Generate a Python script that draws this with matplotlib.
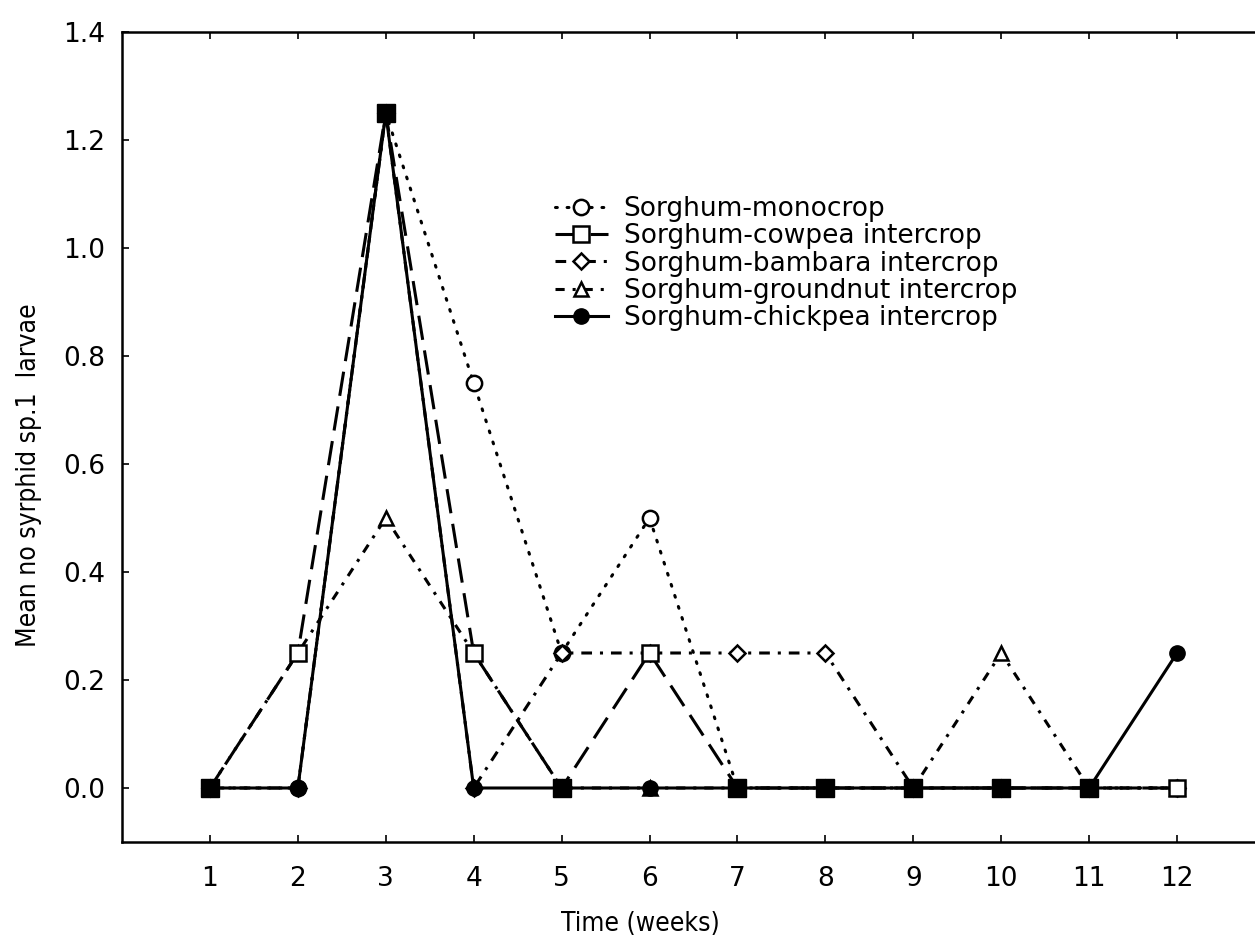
import matplotlib
matplotlib.use('Agg')
import matplotlib.pyplot as plt
import numpy as np

# data
weeks = [1, 2, 3, 4, 5, 6, 7, 8, 9, 10, 11, 12]
monocrop  = [0, 0, 1.25, 0.75, 0.25, 0.5, 0, 0, 0, 0, 0, 0]
cowpea    = [0, 0.25, 1.25, 0.25, 0, 0.25, 0, 0, 0, 0, 0, 0]
bambara   = [0, 0, 1.25, 0, 0.25, 0.25, 0.25, 0.25, 0, 0, 0, 0]
groundnut = [0, 0.25, 0.5, 0.25, 0, 0, 0, 0, 0, 0.25, 0, 0]
chickpea  = [0, 0, 1.25, 0, 0, 0, 0, 0, 0, 0, 0, 0.25]

labels = ['Sorghum-monocrop', 'Sorghum-cowpea intercrop', 'Sorghum-bambara intercrop',
          'Sorghum-groundnut intercrop', 'Sorghum-chickpea intercrop']
yticks = [0.0, 0.2, 0.4, 0.6, 0.8, 1.0, 1.2, 1.4]

plt.rcParams['font.family'] = ['DejaVu Sans']
W, H = 1255, 943
fig = plt.figure(figsize=(W / 100, H / 100), dpi=100)
left, right, top, bottom = 122, 1265, 32, 842
ax = fig.add_axes([left / W, (H - bottom) / H, (right - left) / W, (bottom - top) / H])

lw = 2.2
ax.plot(weeks, monocrop, color='k', lw=lw, linestyle=(0, (0.6, 3.2)), dash_capstyle='round',
        marker='o', ms=11, mfc='white', mec='k', mew=1.8, label=labels[0], zorder=3)
ax.plot(weeks, cowpea, color='k', lw=lw, linestyle=(0, (8, 3.5)),
        marker='s', ms=12, mfc='white', mec='k', mew=1.8, label=labels[1], zorder=4)
ax.plot(weeks, bambara, color='k', lw=lw, linestyle=(0, (3.5, 2.6, 1.0, 2.6)),
        marker='D', ms=8, mfc='white', mec='k', mew=1.8, label=labels[2], zorder=3)
ax.plot(weeks, groundnut, color='k', lw=lw, linestyle=(0, (3.0, 2.6, 1.0, 2.6)),
        marker='^', ms=10, mfc='white', mec='k', mew=1.8, label=labels[3], zorder=3)
ax.plot(weeks, chickpea, color='k', lw=lw, linestyle='-',
        marker='o', ms=11, mfc='k', mec='k', label=labels[4], zorder=5)

# where cowpea and chickpea markers sit on top of each other they print as a solid square
cw = np.array(cowpea)
ck = np.array(chickpea)
same = cw == ck
ax.plot(np.array(weeks)[same], cw[same], linestyle='none', marker='s', ms=13,
        mfc='k', mec='k', zorder=6)

ax.set_xlim(0, 13)
ax.set_ylim(-0.1, 1.4)
ax.set_xticks(weeks)
ax.set_yticks(yticks)
ax.set_yticklabels([f'{v:.1f}' for v in yticks])
ax.tick_params(direction='in', length=5, width=1.2, top=True, right=False, labelsize=19)
ax.tick_params(axis='x', pad=17)
ax.tick_params(axis='y', pad=12)
for s in ax.spines.values():
    s.set_linewidth(1.8)

narrow = ['Liberation Sans Narrow', 'DejaVu Sans Condensed', 'DejaVu Sans']
ax.set_xlabel('Time (weeks)', fontsize=19, family=narrow, fontstretch='condensed')
ax.set_ylabel('Mean no syrphid sp.1  larvae', fontsize=19, family=narrow,
              fontstretch='condensed')
ax.xaxis.set_label_coords((640 - left) / (right - left), (bottom - 911) / (bottom - top))
ax.yaxis.set_label_coords((42 - left) / (right - left), (bottom - 475) / (bottom - top))

ax.legend(loc='upper left', bbox_to_anchor=(555 / W, 1 - 196 / H), bbox_transform=fig.transFigure,
          frameon=False, fontsize=19, handlelength=2.0, handletextpad=0.6, labelspacing=0.05,
          borderaxespad=0, borderpad=0)

fig.savefig('out.png', dpi=100)
